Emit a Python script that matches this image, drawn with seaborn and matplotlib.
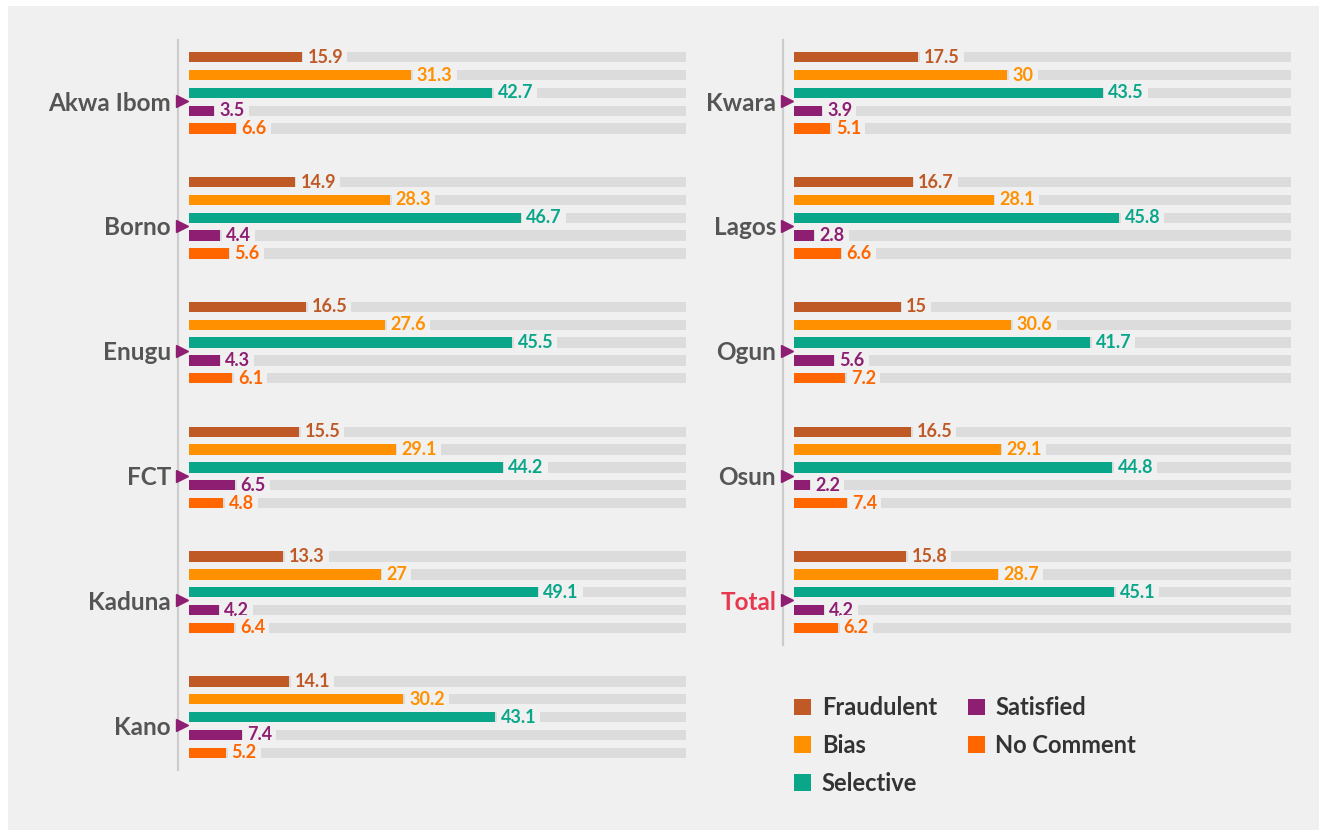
import pandas as pd
import numpy as np
import matplotlib
matplotlib.use("Agg")
import matplotlib.pyplot as plt
from matplotlib.patches import Patch, Rectangle
import seaborn as sns

# data (percent)
responses = ['Fraudulent', 'Bias', 'Selective', 'Satisfied', 'No Comment']
colors = ['#bf5a26', '#ff9100', '#0aa68a', '#8e1e72', '#ff6600']

left_regions = ['Akwa Ibom', 'Borno', 'Enugu', 'FCT', 'Kaduna', 'Kano']
fraudulent_l = [15.9, 14.9, 16.5, 15.5, 13.3, 14.1]
bias_l = [31.3, 28.3, 27.6, 29.1, 27, 30.2]
selective_l = [42.7, 46.7, 45.5, 44.2, 49.1, 43.1]
satisfied_l = [3.5, 4.4, 4.3, 6.5, 4.2, 7.4]
nocomment_l = [6.6, 5.6, 6.1, 4.8, 6.4, 5.2]

right_regions = ['Kwara', 'Lagos', 'Ogun', 'Osun', 'Total']
fraudulent_r = [17.5, 16.7, 15, 16.5, 15.8]
bias_r = [30, 28.1, 30.6, 29.1, 28.7]
selective_r = [43.5, 45.8, 41.7, 44.8, 45.1]
satisfied_r = [3.9, 2.8, 5.6, 2.2, 4.2]
nocomment_r = [5.1, 6.6, 7.2, 7.4, 6.2]

TRACK_MAX = 70  # length of the grey background track

BG = '#f0f0f0'
TRACK = '#dcdcdc'
LABEL = '#555555'
TOTAL_RED = '#e8384f'

sns.set_theme(style='white')
plt.rcParams['font.family'] = ['Lato', 'DejaVu Sans']


def to_long(regions, series):
    rows = []
    for resp, vals in zip(responses, series):
        for reg, v in zip(regions, vals):
            rows.append({'region': reg, 'response': resp, 'value': v, 'track': TRACK_MAX})
    return pd.DataFrame(rows)


def draw_panel(ax, regions, series):
    df = to_long(regions, series)
    # background tracks
    sns.barplot(data=df, x='track', y='region', hue='response', order=regions,
                hue_order=responses, palette=[TRACK] * 5, orient='h',
                width=0.713, gap=0.42, legend=False, ax=ax, errorbar=None,
                saturation=1, linewidth=0)
    n_track = len(ax.containers)
    sns.barplot(data=df, x='value', y='region', hue='response', order=regions,
                hue_order=responses, palette=colors, orient='h',
                width=0.713, gap=0.42, legend=False, ax=ax, errorbar=None,
                saturation=1, linewidth=0)
    for cont in ax.containers[:n_track]:
        for b in cont:
            b.set_zorder(1)
    for cont, c, resp in zip(ax.containers[n_track:], colors, responses):
        for b in cont:
            b.set_zorder(3)
        labels = [f'{v:g}' for v in df[df.response == resp]['value']]
        ax.bar_label(cont, labels=labels, padding=4, color=c, fontsize=13,
                     fontweight='bold', zorder=2,
                     bbox=dict(boxstyle='square,pad=0.22', fc=BG, ec='none'))

    n = len(regions)
    # region labels sit a little below the group centre, as in the original
    ticks = np.arange(n) + 0.065
    ax.set_yticks(ticks, regions)
    ax.set_xlim(-1.55, TRACK_MAX)
    ax.set_ylim(5.5, -0.5)
    ax.set_xlabel('')
    ax.set_ylabel('')
    ax.set_xticks([])
    ax.set_facecolor('none')
    for s in ['top', 'right', 'bottom']:
        ax.spines[s].set_visible(False)
    ax.spines['left'].set_color('#cccccc')
    ax.spines['left'].set_linewidth(1.6)
    ax.spines['left'].set_bounds(-0.42, n - 1 + 0.42)
    ax.tick_params(axis='y', length=0, pad=5)
    for lab in ax.get_yticklabels():
        lab.set_fontsize(17.5)
        lab.set_fontweight('bold')
        lab.set_color(TOTAL_RED if lab.get_text() == 'Total' else LABEL)
    ax.plot([0.007] * n, ticks, linestyle='none', marker='>',
            markersize=8, color='#8e1e72', transform=ax.get_yaxis_transform(),
            clip_on=False, zorder=4)


W, H = 1327, 836
fig = plt.figure(figsize=(W / 100, H / 100), dpi=100, facecolor='white')
fig.patches.append(Rectangle((8 / W, 6 / H), (1319 - 8) / W, (830 - 6) / H,
                             transform=fig.transFigure, fc=BG, ec='none', zorder=-5))

ax_h = 749 / H
ax_b = 1 - 779.5 / H
ax_w = 508 / W
ax1 = fig.add_axes([178 / W, ax_b, ax_w, ax_h])
ax2 = fig.add_axes([783 / W, ax_b, ax_w, ax_h])

draw_panel(ax1, left_regions,
           [fraudulent_l, bias_l, selective_l, satisfied_l, nocomment_l])
draw_panel(ax2, right_regions,
           [fraudulent_r, bias_r, selective_r, satisfied_r, nocomment_r])

handles = [Patch(fc=c, ec='none') for c in colors]
leg = fig.legend(handles, responses, loc='upper left',
                 bbox_to_anchor=(773 / W, 1 - 675 / H), ncol=2, frameon=False,
                 prop={'family': 'Lato', 'weight': 'bold', 'size': 17},
                 handlelength=0.72, handleheight=0.72, handletextpad=0.45,
                 labelspacing=0.62, columnspacing=1.3)
for t in leg.get_texts():
    t.set_color('#333333')

fig.savefig('out.png', dpi=100, facecolor='white')
